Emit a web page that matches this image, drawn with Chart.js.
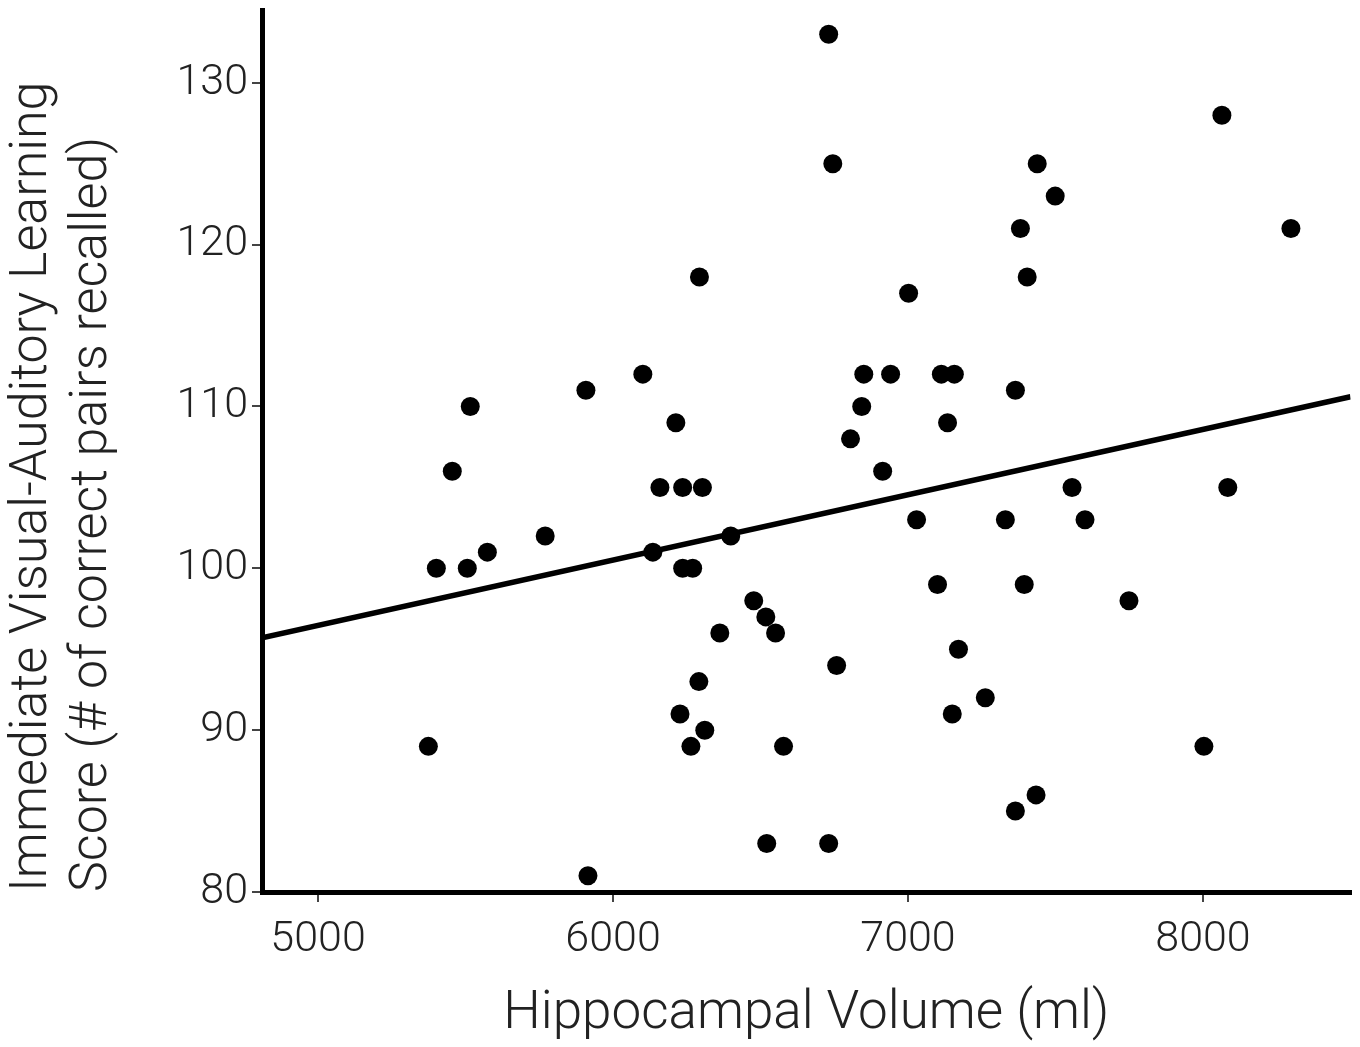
<!DOCTYPE html>
<html>
<head>
<meta charset="utf-8">
<script src="https://cdn.jsdelivr.net/npm/chart.js@4"></script>
<style>
  html, body { margin: 0; padding: 0; background: #fff; }
  #wrap { width: 1360px; height: 1047px; position: relative; }
</style>
</head>
<body>
<div id="wrap"><canvas id="chart"></canvas></div>
<script>
// hippocampal volume (ml) and learning score for each subject
const volumes = [5374, 5401, 5455, 5516, 5506, 5574, 5770, 5908, 5915, 6101,
  6135, 6159, 6213, 6236, 6236, 6270, 6293, 6303, 6227, 6291,
  6264, 6311, 6399, 6362, 6477, 6518, 6551, 6578, 6521, 6731,
  6745, 6758, 6731, 6805, 6843, 6850, 6914, 6941, 7002, 7029,
  7100, 7113, 7134, 7157, 7150, 7171, 7262, 7330, 7364, 7364,
  7381, 7394, 7404, 7434, 7438, 7499, 7556, 7600, 7749, 8003,
  8064, 8084, 8298];
const scores = [89, 100, 106, 110, 100, 101, 102, 111, 81, 112,
  101, 105, 109, 105, 100, 100, 118, 105, 91, 93,
  89, 90, 102, 96, 98, 97, 96, 89, 83, 133,
  125, 94, 83, 108, 110, 112, 106, 112, 117, 103,
  99, 112, 109, 112, 91, 95, 92, 103, 111, 85,
  121, 99, 118, 86, 125, 123, 105, 103, 98, 89,
  128, 105, 121];

// fitted regression line
const fitX = [4810, 8500];
const fitY = [95.7, 110.6];

const xTicks = [5000, 6000, 7000, 8000];
const yTicks = [80, 90, 100, 110, 120, 130];

const FONT = 'Roboto, "Liberation Sans", sans-serif';

const points = volumes.map((v, i) => ({ x: v, y: scores[i] }));
const fitLine = fitX.map((v, i) => ({ x: v, y: fitY[i] }));

new Chart(document.getElementById('chart'), {
  type: 'scatter',
  data: {
    datasets: [{
      data: points,
      backgroundColor: '#000',
      borderWidth: 0,
      pointRadius: 9.5,
      pointHoverRadius: 9.5
    }, {
      data: fitLine,
      showLine: true,
      borderColor: '#000',
      borderWidth: 5.5,
      pointRadius: 0,
      pointHoverRadius: 0,
      fill: false
    }]
  },
  options: {
    responsive: true,
    maintainAspectRatio: false,
    animation: false,
    events: [],
    layout: { padding: { top: 10, right: 8, left: 0, bottom: 0 } },
    plugins: { legend: { display: false }, tooltip: { enabled: false } },
    scales: {
      x: {
        type: 'linear',
        min: 4810,
        max: 8500,
        afterBuildTicks: (s) => { s.ticks = xTicks.map(v => ({ value: v })); },
        afterFit: (s) => { s.height = 155; },
        border: { display: true, color: '#000', width: 5 },
        grid: { drawOnChartArea: false, drawTicks: true, tickLength: 10, color: '#444', lineWidth: 2 },
        ticks: {
          color: '#222', padding: 12,
          font: { family: FONT, size: 43, weight: 300 },
          callback: (v) => String(v)
        },
        title: {
          display: true,
          text: 'Hippocampal Volume (ml)',
          color: '#222',
          padding: { top: 0, bottom: 0 },
          font: { family: FONT, size: 53, weight: 300 }
        }
      },
      y: {
        type: 'linear',
        min: 80,
        max: 134.5,
        afterBuildTicks: (s) => { s.ticks = yTicks.map(v => ({ value: v })); },
        afterFit: (s) => { s.width = 262; s.paddingTop = 0; s.paddingBottom = 0; },
        border: { display: true, color: '#000', width: 5 },
        grid: { drawOnChartArea: false, drawTicks: true, tickLength: 10, color: '#444', lineWidth: 2 },
        ticks: {
          color: '#222', padding: 4,
          font: { family: FONT, size: 43, weight: 300 },
          callback: (v) => String(v)
        },
        title: {
          display: true,
          align: 'start',
          text: ['Immediate Visual-Auditory Learning', 'Score (# of correct pairs recalled)'],
          color: '#222',
          padding: { top: 3, bottom: 0 },
          font: { family: FONT, size: 52, weight: 300, lineHeight: 1.15 }
        }
      }
    }
  }
});
</script>
</body>
</html>
